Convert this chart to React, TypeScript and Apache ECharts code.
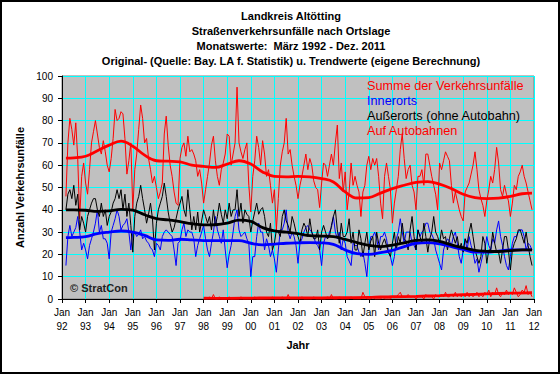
import React, { useEffect, useRef } from "react";
import * as echarts from "echarts";

const FONT = "'Liberation Sans', Arial, sans-serif";

const titleLines = [
  "Landkreis Altötting",
  "Straßenverkehrsunfälle nach Ortslage",
  "Monatswerte:  März 1992 - Dez. 2011",
  "Original- (Quelle: Bay. LA f. Statistik) u. Trendwerte (eigene Berechnung)",
];
const seriesNames = [
  "Summe der Verkehrsunfälle",
  "Innerorts",
  "Außerorts (ohne Autobahn)",
  "Auf Autobahnen",
];
const seriesColors = ["#ff0000", "#0000ff", "#000000", "#ff0000"];
const yearLabels = ["92","93","94","95","96","97","98","99","00","01","02","03","04","05","06","07","08","09","10","11","12"];

// month index (0 = Jan 1992) of the first value of each monthly series
const startMonth = 2; // März 1992
const autobahnStart = 72; // Jan 1998

const summe = [
  46, 70, 81, 76, 69, 79, 63, 36, 55, 61,
  52, 47, 58, 70, 75, 80, 74, 68, 65, 71, 66, 60,
  57, 63, 72, 85, 80, 81, 84, 83, 72, 56, 62, 70,
  40, 58, 65, 76, 87, 81, 70, 72, 63, 58, 52, 55,
  50, 45, 48, 52, 74, 82, 69, 60, 55, 48, 43, 42,
  63, 68, 70, 64, 73, 66, 67, 65, 62, 55, 58, 52,
  43, 49, 55, 61, 69, 73, 62, 55, 51, 58, 61, 65,
  74, 73, 60, 65, 70, 95, 70, 66, 63, 67, 70, 51,
  39, 55, 62, 73, 68, 60, 71, 65, 55, 58, 51, 43,
  49, 31, 45, 60, 66, 70, 81, 65, 67, 60, 55, 51,
  45, 51, 55, 60, 65, 58, 63, 60, 53, 50, 49, 41,
  52, 61, 60, 55, 60, 65, 60, 70, 78, 54, 61, 48,
  57, 40, 48, 61, 51, 55, 51, 48, 37, 48, 51, 60,
  64, 58, 63, 60, 63, 55, 43, 36, 55, 61, 55, 49,
  34, 43, 49, 55, 67, 74, 63, 54, 58, 60, 51, 48,
  40, 55, 55, 58, 51, 65, 65, 60, 55, 51, 47, 40,
  61, 58, 62, 66, 64, 62, 51, 43, 48, 44, 40, 37,
  35, 48, 50, 52, 56, 60, 66, 58, 49, 45, 42, 37,
  44, 49, 55, 52, 58, 68, 61, 49, 46, 51, 47, 44,
  37, 43, 51, 49, 55, 57, 60, 55, 52, 48, 44, 40,
];

const innerorts = [
  15, 28, 33, 28, 30, 32, 37, 30, 22, 25,
  22, 18, 24, 27, 30, 34, 40, 30, 33, 27, 27, 25,
  18, 30, 33, 36, 40, 37, 31, 33, 34, 36, 30, 22,
  30, 30, 28, 29, 31, 27, 28, 26, 25, 23, 22, 19,
  25, 24, 22, 28, 30, 31, 30, 29, 28, 22, 15, 25,
  26, 31, 34, 28, 31, 30, 30, 27, 19, 24, 27, 30,
  33, 27, 22, 19, 25, 30, 37, 31, 28, 25, 31, 22,
  14, 20, 24, 30, 37, 40, 31, 28, 29, 30, 27, 25,
  10, 19, 19, 28, 34, 30, 30, 22, 27, 24, 19, 22,
  18, 12, 22, 31, 31, 34, 40, 30, 27, 30, 28, 24,
  16, 25, 27, 30, 32, 33, 31, 30, 28, 25, 24, 22,
  15, 25, 28, 27, 30, 32, 37, 30, 27, 30, 22, 27,
  25, 19, 17, 15, 25, 24, 24, 21, 19, 21, 16, 10,
  22, 28, 28, 30, 27, 22, 28, 28, 30, 27, 21, 19,
  15, 19, 27, 30, 36, 30, 25, 30, 30, 30, 25, 24,
  22, 31, 28, 30, 31, 34, 34, 30, 29, 27, 22, 19,
  16, 13, 22, 25, 27, 26, 24, 28, 30, 25, 19, 16,
  22, 27, 22, 28, 24, 21, 16, 18, 12, 16, 20, 22,
  28, 24, 22, 27, 25, 31, 35, 28, 24, 19, 15, 13,
  19, 25, 28, 28, 30, 31, 31, 28, 22, 25, 24, 22,
];

const ausserorts = [
  40, 47, 49, 45, 51, 42, 47, 31, 37, 34,
  30, 37, 40, 43, 45, 45, 40, 37, 43, 37, 40, 33,
  37, 39, 43, 45, 49, 45, 49, 40, 47, 37, 43, 33,
  21, 37, 43, 46, 51, 45, 40, 34, 38, 43, 36, 22,
  34, 40, 43, 46, 52, 46, 39, 34, 30, 32, 36, 40,
  43, 46, 40, 37, 49, 40, 31, 37, 31, 39, 30, 35,
  40, 37, 34, 37, 31, 40, 33, 37, 43, 38, 34, 40,
  36, 43, 37, 40, 40, 49, 37, 43, 34, 40, 38, 37,
  30, 35, 39, 43, 38, 40, 41, 37, 30, 28, 34, 22,
  25, 31, 30, 28, 37, 40, 35, 33, 30, 37, 34, 30,
  28, 25, 31, 34, 32, 28, 36, 30, 27, 27, 31, 22,
  30, 33, 30, 27, 28, 33, 37, 40, 31, 25, 34, 28,
  28, 30, 36, 25, 30, 22, 22, 31, 27, 19, 25, 30,
  22, 26, 28, 19, 30, 25, 22, 25, 27, 24, 21, 19,
  25, 30, 22, 28, 25, 34, 27, 26, 22, 31, 37, 28,
  22, 31, 28, 25, 34, 28, 21, 27, 30, 37, 30, 28,
  25, 31, 27, 28, 22, 27, 31, 28, 25, 28, 22, 25,
  21, 27, 25, 30, 34, 28, 22, 19, 16, 19, 28, 25,
  16, 22, 22, 30, 25, 21, 21, 16, 22, 28, 28, 22,
  13, 22, 25, 27, 31, 31, 28, 25, 30, 24, 19, 15,
];

const autobahn = [
  0, 0, 0, 1, 0, 2, 0, 0, 1, 0, 0, 0,
  0, 1, 0, 0, 0, 0, 0, 1, 0, 0, 0, 0,
  0, 0, 1, 0, 0, 0, 0, 0, 0, 0, 0, 1,
  0, 0, 0, 0, 1, 0, 0, 2, 0, 0, 0, 0,
  0, 0, 1, 0, 0, 0, 0, 0, 1, 0, 0, 0,
  0, 0, 0, 1, 0, 2, 0, 0, 0, 1, 0, 0,
  0, 0, 0, 1, 0, 0, 0, 0, 0, 3, 1, 0,
  0, 0, 1, 0, 0, 0, 0, 1, 0, 0, 0, 0,
  1, 1, 1, 2, 3, 1, 1, 1, 2, 1, 1, 1,
  0, 1, 1, 1, 0, 2, 1, 1, 1, 0, 2, 1,
  1, 2, 1, 3, 1, 1, 2, 1, 3, 1, 2, 1,
  2, 1, 3, 1, 2, 1, 2, 3, 1, 2, 1, 3,
  2, 4, 1, 3, 2, 5, 2, 1, 3, 2, 4, 2,
  3, 2, 5, 3, 1, 2, 4, 3, 6, 2, 3, 1,
];

// trend values, read at half-year steps (month index)
const trendMonths = [2, 6, 12, 18, 24, 30, 36, 42, 48, 54, 60, 66, 72, 78, 84, 90, 96, 102, 108, 114, 120, 126, 132, 138, 144, 150, 156, 162, 168, 174, 180, 186, 192, 198, 204, 210, 216, 222, 228, 234, 239];
const trendSumme = [63.2, 63.3, 64, 66.5, 69, 70.8, 68.5, 64.5, 62, 61.8, 61.5, 60, 59.5, 59, 60.5, 62, 60.5, 57, 55, 54.8, 55, 54.8, 54, 52.5, 48, 45.3, 45.5, 47.5, 49.5, 51, 52.3, 52.6, 51.5, 49.5, 47, 45.5, 45, 45.2, 46, 47.2, 47.5];
const trendInner = [27.5, 27.6, 28, 29.3, 30, 30.5, 30, 28.5, 26.5, 26.3, 26.8, 26.5, 26.2, 26.2, 26.2, 26.2, 25, 24.3, 24.6, 25, 25.2, 25.3, 25.2, 24.5, 22, 20.3, 20, 20.8, 21.8, 23.5, 25, 25.3, 24.7, 23.5, 22.2, 21, 21, 21.5, 22, 22, 22];
const trendAusser = [40, 40, 39.8, 39.3, 39.5, 40.2, 39.8, 37.8, 36, 35.5, 34.7, 33.8, 33.2, 33.3, 34, 35.4, 34.8, 32, 30.5, 30, 29.3, 28.4, 28.2, 28, 26.7, 25.3, 24, 23.5, 24.2, 25.2, 26.3, 26.5, 25.8, 24.3, 23, 21.8, 21.4, 21.3, 21.7, 22, 22];
const trendAutobahnMonths = [72, 84, 96, 108, 120, 132, 144, 156, 162, 168, 180, 192, 204, 216, 228, 239];
const trendAutobahn = [0.4, 0.3, 0.4, 0.5, 0.5, 0.5, 0.6, 0.7, 0.9, 1.0, 1.2, 1.5, 1.9, 2.3, 2.6, 2.8];

const monthly = (vals: number[], start: number) => vals.map((v, i) => [start + i, v]);
const pairs = (ms: number[], vals: number[]) => ms.map((m, i) => [m, vals[i]]);

export default function App() {
  const ref = useRef<HTMLDivElement>(null);
  useEffect(() => {
    if (!ref.current) return;
    const chart = echarts.init(ref.current, undefined, { renderer: "svg" });
    const raw = (name: string, data: number[][], color: string) => ({
      name, type: "line", data, showSymbol: false, symbol: "none", z: 2,
      lineStyle: { color, width: 1 }, itemStyle: { color },
    });
    const trend = (name: string, data: number[][], color: string) => ({
      name: name + " (Trend)", type: "line", data, showSymbol: false, symbol: "none", z: 3,
      smooth: 0.4, lineStyle: { color, width: 2.8 }, itemStyle: { color },
    });
    chart.setOption({
      animation: false,
      backgroundColor: "#ffffff",
      textStyle: { fontFamily: FONT },
      grid: { left: 62, right: 26, top: 76, bottom: 75, show: true, backgroundColor: "#c0c0c0", borderColor: "#808080", borderWidth: 1 },
      xAxis: {
        type: "value", min: 0, max: 240, interval: 12,
        name: "Jahr", nameLocation: "middle", nameGap: 40,
        nameTextStyle: { fontFamily: FONT, fontSize: 11, fontWeight: "bold", color: "#000" },
        axisLine: { show: true, onZero: false, lineStyle: { color: "#000", width: 1 } },
        axisTick: { show: true, length: 4, lineStyle: { color: "#000" } },
        axisLabel: {
          fontFamily: FONT, fontSize: 10, color: "#000", lineHeight: 14, margin: 6,
          formatter: (v: number) => "Jan\n" + yearLabels[Math.round(v / 12)],
        },
        splitLine: { show: true, lineStyle: { color: "#00ffff", width: 1 } },
      },
      yAxis: {
        type: "value", min: 0, max: 100, interval: 10,
        name: "Anzahl Verkehrsunfälle", nameLocation: "middle", nameGap: 36, nameRotate: 90,
        nameTextStyle: { fontFamily: FONT, fontSize: 11, fontWeight: "bold", color: "#000" },
        axisLine: { show: true, lineStyle: { color: "#000", width: 1 } },
        axisTick: { show: true, length: 4, lineStyle: { color: "#000" } },
        axisLabel: { fontFamily: FONT, fontSize: 10, color: "#000", margin: 9 },
        splitLine: { show: true, lineStyle: { color: "#00ffff", width: 1 } },
      },
      series: [
        raw(seriesNames[0], monthly(summe, startMonth), seriesColors[0]),
        raw(seriesNames[1], monthly(innerorts, startMonth), seriesColors[1]),
        raw(seriesNames[2], monthly(ausserorts, startMonth), seriesColors[2]),
        raw(seriesNames[3], monthly(autobahn, autobahnStart), seriesColors[3]),
        trend(seriesNames[0], pairs(trendMonths, trendSumme), seriesColors[0]),
        trend(seriesNames[1], pairs(trendMonths, trendInner), seriesColors[1]),
        trend(seriesNames[2], pairs(trendMonths, trendAusser), seriesColors[2]),
        trend(seriesNames[3], pairs(trendAutobahnMonths, trendAutobahn), seriesColors[3]),
      ],
      graphic: [
        { type: "rect", shape: { x: 1, y: 1, width: 558, height: 372 }, style: { fill: "none", stroke: "#000", lineWidth: 2 }, silent: true, z: 100 },
        {
          type: "text", x: 291, y: 8, z: 100,
          style: { text: titleLines.join("\n"), align: "center", verticalAlign: "top", lineHeight: 15, fontFamily: FONT, fontSize: 11, fontWeight: "bold", fill: "#000" },
        },
        ...seriesNames.map((n, i) => ({
          type: "text", x: 367, y: 86 + i * 15, z: 100,
          style: { text: n, align: "left", verticalAlign: "middle", fontFamily: FONT, fontSize: 12.7, fill: seriesColors[i] },
        })),
        {
          type: "text", x: 70, y: 288, z: 100,
          style: { text: "© StratCon", align: "left", verticalAlign: "middle", fontFamily: FONT, fontSize: 11, fontWeight: "bold", fill: "#222" },
        },
      ],
    });
    return () => chart.dispose();
  }, []);
  return <div ref={ref} style={{ position: "absolute", left: 0, top: 0, width: 560, height: 374 }} />;
}
